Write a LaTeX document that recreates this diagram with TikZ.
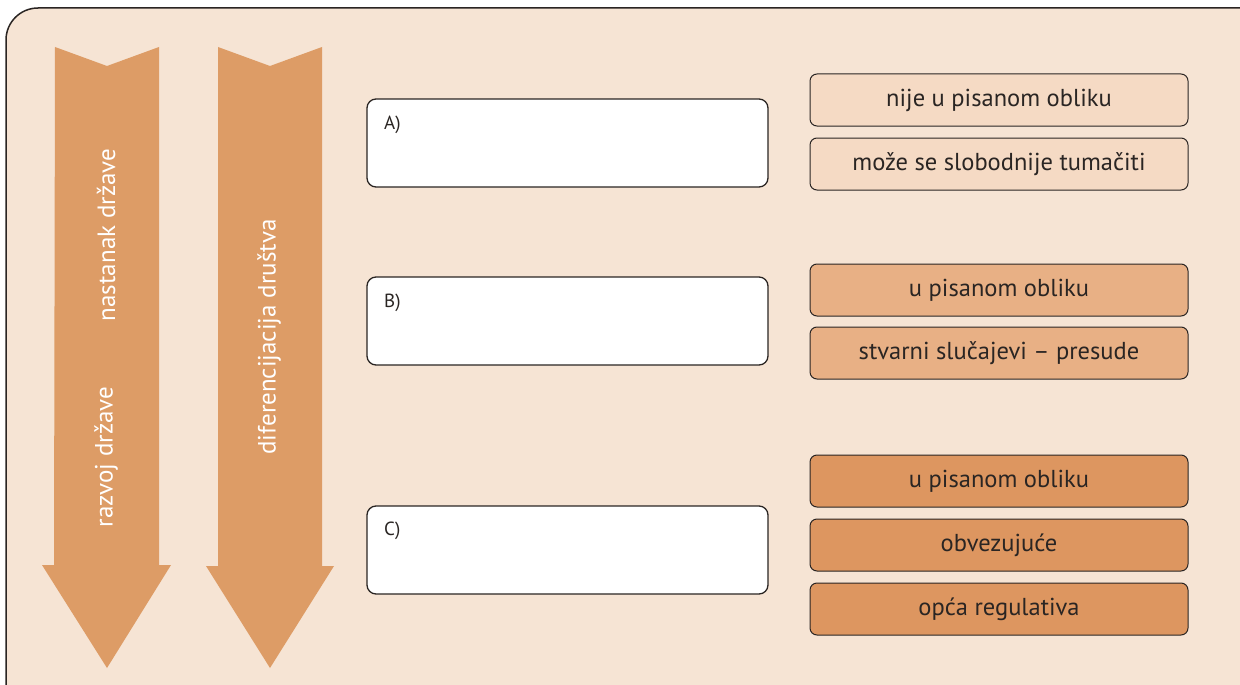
\documentclass[tikz,border=0pt]{standalone}
\usepackage{fontspec}
\setmainfont{PT Sans}
\definecolor{bgc}{HTML}{F6E4D4}
\definecolor{arrc}{HTML}{DD9C66}
\definecolor{lightc}{HTML}{F5DAC4}
\definecolor{midc}{HTML}{E8B085}
\definecolor{darkc}{HTML}{DD9660}
\definecolor{linec}{HTML}{2A2523}
\tikzset{
  arrowshape/.style={fill=arrc, draw=none},
  arrowtext/.style={text=white, font=\fontsize{25}{28}\selectfont, rotate=90, inner sep=0pt},
  answerbox/.style={draw=linec, line width=1.3pt, fill=white, rounded corners=9pt},
  optbox/.style={draw=linec, line width=1pt, rounded corners=7pt, minimum width=378pt, minimum height=52pt, inner sep=0pt, font=\fontsize{24.5}{28}\selectfont, text=linec},
  letter/.style={font=\fontsize{19}{21}\selectfont, text=linec, anchor=north west, inner sep=0pt}
}
\begin{document}
\begin{tikzpicture}[x=1pt,y=-1pt]
\useasboundingbox (0,0) rectangle (1240,685);
\fill[white] (0,0) rectangle (1240,685);
\draw[draw=linec, line width=1.5pt, fill=bgc, rounded corners=32pt] (6,8) rectangle (1275,720);
% left arrow
\fill[arrowshape] (55,47) -- (107,66) -- (159,47) -- (159,565) -- (171,565) -- (107,668) -- (42,565) -- (54,565) -- cycle;
% right arrow
\fill[arrowshape] (218,47) -- (270,66) -- (322,47) -- (322,566) -- (334,566) -- (270,668) -- (206,566) -- (218,566) -- cycle;
\node[arrowtext] (t1) at (106,235) {nastanak države};
\node[arrowtext] (t2) at (106,457) {razvoj države};
\node[arrowtext] (t3) at (269,337) {diferencijacija društva};
% answer boxes
\draw[answerbox] (367,99) rectangle (768,187);
\draw[answerbox] (367,277) rectangle (768,365);
\draw[answerbox] (367,506) rectangle (768,594);
\node[letter] (la) at (384,116) {A)};
\node[letter] (lb) at (384,294) {B)};
\node[letter] (lc) at (384,522) {C)};
% option boxes
\node[optbox, fill=lightc] (o1) at (999,100) {nije u pisanom obliku};
\node[optbox, fill=lightc] (o2) at (999,164) {može se slobodnije tumačiti};
\node[optbox, fill=midc] (o3) at (999,290) {u pisanom obliku};
\node[optbox, fill=midc] (o4) at (999,353) {stvarni slučajevi – presude};
\node[optbox, fill=darkc] (o5) at (999,481) {u pisanom obliku};
\node[optbox, fill=darkc] (o6) at (999,545) {obvezujuće};
\node[optbox, fill=darkc] (o7) at (999,609) {opća regulativa};
\end{tikzpicture}
\end{document}
